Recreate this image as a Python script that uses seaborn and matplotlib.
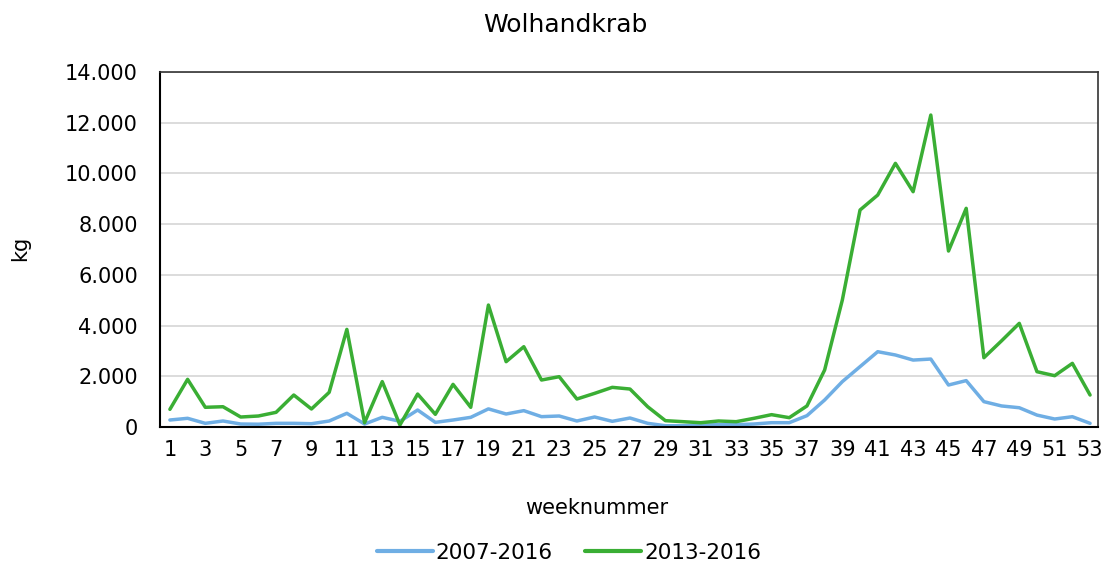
import numpy as np
import pandas as pd
import matplotlib
matplotlib.use("Agg")
import matplotlib.pyplot as plt
import seaborn as sns
from matplotlib.ticker import FuncFormatter, MultipleLocator

weeks = list(range(1, 54))

# kg per week
kg_2007_2016 = [276, 343, 145, 237, 118, 110, 145, 145, 130, 237,
                540, 118, 382, 224, 670, 184, 276, 381, 715, 513,
                645, 408, 434, 237, 395, 224, 355, 145, 50, 50,
                80, 90, 90, 118, 170, 170, 447, 1065, 1790, 2380,
                2970, 2840, 2640, 2680, 1656, 1830, 1000, 830, 760, 470,
                315, 406, 145]
kg_2013_2016 = [697, 1880, 777, 800, 394, 434, 579, 1262, 710, 1367,
                3850, 170, 1790, 80, 1300, 500, 1682, 777, 4810, 2576,
                3167, 1853, 1985, 1104, 1327, 1564, 1498, 800, 250, 210,
                170, 237, 210, 342, 487, 368, 830, 2248, 5008, 8557,
                9148, 10398, 9280, 12303, 6940, 8624, 2733, 3400, 4088, 2181,
                2024, 2510, 1262]

series_names = ["2007-2016", "2013-2016"]
colors = ["#6FAEE4", "#3AAE34"]

df = pd.concat([
    pd.DataFrame({"week": weeks, "kg": kg_2007_2016, "periode": series_names[0]}),
    pd.DataFrame({"week": weeks, "kg": kg_2013_2016, "periode": series_names[1]}),
])

sns.set_style("white")
plt.rcParams["font.family"] = ["DejaVu Sans"]
plt.rcParams["text.color"] = "black"

fig = plt.figure(figsize=(11.08, 5.67), dpi=100)
ax = fig.add_axes([0.1444, 0.2469, 0.8466, 0.6261])

sns.lineplot(data=df, x="week", y="kg", hue="periode", palette=colors,
             linewidth=2.5, ax=ax, legend=True)

ax.set_xlim(0.44, 53.45)
ax.set_ylim(0, 14000)
ax.set_xticks(range(1, 54, 2))
ax.yaxis.set_major_locator(MultipleLocator(2000))
ax.yaxis.set_major_formatter(FuncFormatter(lambda v, p: f"{int(v):,}".replace(",", ".")))
ax.grid(axis="y", color="#d9d9d9", linewidth=1.3)
ax.set_axisbelow(True)
ax.tick_params(axis="both", length=0, labelsize=15, colors="black")
ax.tick_params(axis="y", pad=16)
ax.tick_params(axis="x", pad=9)

for side in ["left", "bottom"]:
    ax.spines[side].set_color("black")
    ax.spines[side].set_linewidth(1.5)
for side in ["top", "right"]:
    ax.spines[side].set_color("#333333")
    ax.spines[side].set_linewidth(1.2)

ax.set_xlabel("")
ax.set_ylabel("")
fig.text(565 / 1108, 1 - 25 / 567, "Wolhandkrab", fontsize=18, ha="center", va="center")
fig.text(597 / 1108, 1 - 508 / 567, "weeknummer", fontsize=15, ha="center", va="center")
fig.text(20 / 1108, 1 - 248 / 567, "kg", fontsize=15, ha="center", va="center", rotation=90)

ax.get_legend().remove()
handles, labels = ax.get_legend_handles_labels()
for h in handles:
    h.set_linewidth(3)
fig.legend(handles, labels, loc="center", bbox_to_anchor=(569 / 1108, 1 - 553 / 567),
           ncol=2, frameon=False, fontsize=15.5, handlelength=2.6, columnspacing=1.5,
           handletextpad=0.15, borderaxespad=0, borderpad=0)

fig.savefig("out.png", dpi=100)
